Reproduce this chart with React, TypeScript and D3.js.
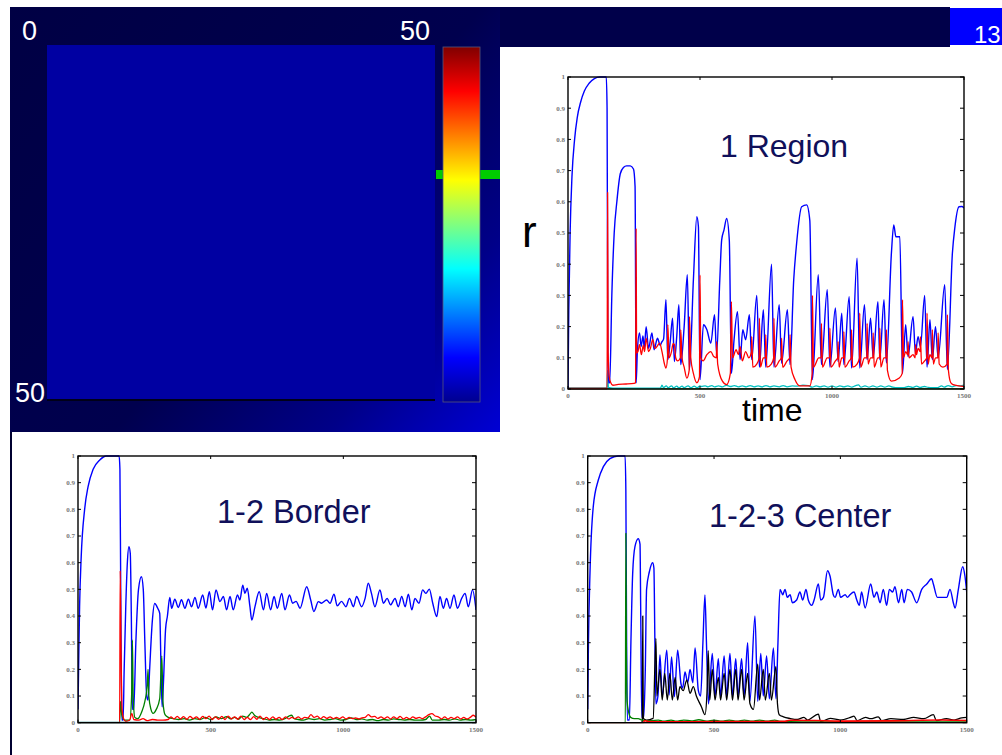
import React from 'react';
import * as d3 from 'd3';

type Pt = [number, number];

const X_TICKS = [0, 500, 1000, 1500];
const X_TICK_LABELS = ['0', '500', '1000', '1500'];
const Y_TICKS = [0, 0.1, 0.2, 0.3, 0.4, 0.5, 0.6, 0.7, 0.8, 0.9, 1];
const Y_TICK_LABELS = ['0', '0.1', '0.2', '0.3', '0.4', '0.5', '0.6', '0.7', '0.8', '0.9', '1'];

const TITLES = ['1 Region', '1-2 Border', '1-2-3 Center'];
const MAP_LABELS = ['0', '50', '50'];
const SLIDE_NUMBER = '13';
const JET_STOPS: [number, string][] = [
  [0, '#00008f'], [0.125, '#0000ff'], [0.375, '#00ffff'], [0.625, '#ffff00'], [0.875, '#ff0000'], [1, '#800000'],
];

// ---------- 1 Region ----------
const R1_BLUE: Pt[] = [[0,0],[3,0.25],[8,0.5],[15,0.68],[25,0.8],[35,0.87],[48,0.92],[62,0.955],[80,0.98],[100,0.995],[120,1],[145,1],[148,0.9],[151,0.1],[154,0.02],[158,0.02],[166,0.3],[175,0.5],[185,0.6],[198,0.69],[210,0.71],[222,0.715],[236,0.715],[248,0.705],[254,0.65],[258,0.02],[263,0.126],[271,0.18],[277,0.136],[284,0.17],[289,0.13],[296,0.2],[305,0.13],[318,0.18],[326,0.126],[339,0.163],[349,0.14],[355,0.15],[362,0.16],[371,0.286],[378,0.094],[387,0.15],[396,0.227],[403,0.088],[412,0.17],[420,0.27],[427,0.078],[440,0.2],[452,0.366],[460,0.062],[475,0.35],[488,0.552],[494,0.52],[500,0.03],[513,0.206],[526,0.19],[541,0.147],[555,0.238],[563,0.115],[575,0.35],[582,0.477],[591,0.51],[601,0.547],[611,0.477],[619,0.05],[629,0.158],[642,0.248],[652,0.094],[662,0.19],[673,0.158],[687,0.238],[696,0.094],[715,0.3],[725,0.07],[740,0.254],[749,0.07],[771,0.4],[780,0.07],[800,0.27],[809,0.083],[831,0.254],[841,0.078],[855,0.35],[866,0.467],[885,0.584],[904,0.59],[916,0.54],[926,0.03],[948,0.366],[960,0.078],[982,0.318],[992,0.07],[1013,0.26],[1023,0.088],[1037,0.243],[1045,0.078],[1065,0.296],[1074,0.067],[1095,0.419],[1105,0.067],[1123,0.27],[1133,0.094],[1146,0.227],[1156,0.1],[1174,0.28],[1181,0.094],[1197,0.286],[1206,0.083],[1225,0.435],[1234,0.526],[1242,0.488],[1257,0.488],[1267,0.05],[1279,0.206],[1288,0.104],[1307,0.232],[1316,0.115],[1326,0.168],[1335,0.136],[1351,0.3],[1360,0.07],[1371,0.222],[1380,0.094],[1392,0.2],[1402,0.1],[1427,0.334],[1437,0.062],[1456,0.435],[1465,0.515],[1481,0.584],[1492,0.585],[1500,0.58]];

const R1_RED: Pt[] = [[0,0],[148,0],[150,0.63],[152,0.12],[156,0.04],[162,0.02],[170,0.012],[190,0.015],[220,0.016],[250,0.018],[256,0.02],[258,0.515],[260,0.115],[265,0.12],[271,0.142],[278,0.11],[285,0.14],[290,0.12],[296,0.163],[305,0.12],[312,0.13],[321,0.158],[330,0.13],[340,0.14],[347,0.147],[356,0.12],[364,0.085],[371,0.067],[377,0.1],[378,0.206],[383,0.1],[392,0.12],[398,0.145],[403,0.142],[408,0.1],[415,0.09],[426,0.1],[427,0.19],[432,0.1],[440,0.07],[450,0.035],[459,0.06],[460,0.232],[465,0.1],[475,0.05],[488,0.02],[498,0.04],[500,0.366],[503,0.1],[512,0.09],[526,0.11],[541,0.12],[552,0.104],[562,0.1],[563,0.152],[567,0.08],[585,0.025],[601,0.014],[615,0.05],[619,0.28],[623,0.1],[637,0.126],[645,0.11],[652,0.136],[660,0.09],[673,0.12],[685,0.1],[695,0.12],[696,0.168],[700,0.07],[715,0.08],[724,0.1],[725,0.227],[729,0.07],[740,0.1],[748,0.1],[749,0.174],[753,0.07],[770,0.08],[779,0.1],[780,0.227],[784,0.07],[800,0.09],[808,0.1],[809,0.163],[813,0.07],[830,0.09],[840,0.1],[841,0.174],[845,0.07],[860,0.03],[879,0.01],[916,0.01],[925,0.05],[926,0.3],[930,0.07],[950,0.1],[959,0.1],[960,0.21],[964,0.07],[982,0.1],[991,0.1],[992,0.195],[996,0.07],[1013,0.09],[1022,0.1],[1023,0.152],[1027,0.07],[1037,0.1],[1044,0.1],[1045,0.184],[1049,0.07],[1065,0.09],[1073,0.1],[1074,0.19],[1078,0.07],[1095,0.08],[1104,0.1],[1105,0.243],[1109,0.07],[1123,0.1],[1132,0.1],[1133,0.21],[1137,0.08],[1146,0.1],[1155,0.1],[1156,0.18],[1160,0.07],[1174,0.1],[1180,0.1],[1181,0.195],[1185,0.07],[1197,0.1],[1205,0.1],[1206,0.19],[1210,0.06],[1225,0.025],[1255,0.035],[1266,0.05],[1267,0.286],[1271,0.1],[1279,0.12],[1287,0.11],[1288,0.152],[1292,0.1],[1307,0.11],[1315,0.1],[1316,0.142],[1320,0.11],[1326,0.13],[1334,0.12],[1335,0.168],[1339,0.08],[1351,0.09],[1359,0.1],[1360,0.243],[1364,0.08],[1371,0.11],[1379,0.1],[1380,0.19],[1384,0.08],[1392,0.1],[1401,0.1],[1402,0.18],[1406,0.08],[1420,0.07],[1436,0.08],[1437,0.238],[1441,0.06],[1450,0.02],[1459,0.014],[1480,0.01],[1500,0.008]];

const R1_CYAN: Pt[] = [[0,0],[148,0],[150,0.06],[153,0.005],[170,0.003],[350,0.003],[356,0.012],[362,0.004],[372,0.01],[380,0.004],[392,0.01],[400,0.004],[412,0.009],[420,0.004],[432,0.009],[440,0.004],[455,0.01],[465,0.004],[478,0.009],[490,0.004],[500,0.01],[505,0.008],[520,0.01],[530,0.007],[545,0.011],[555,0.007],[570,0.01],[585,0.007],[600,0.012],[615,0.008],[630,0.011],[645,0.007],[660,0.01],[675,0.007],[690,0.011],[705,0.007],[720,0.01],[735,0.007],[750,0.011],[765,0.007],[780,0.01],[800,0.007],[815,0.011],[830,0.007],[850,0.01],[870,0.009],[890,0.012],[910,0.011],[925,0.006],[940,0.01],[955,0.007],[970,0.01],[985,0.006],[1000,0.01],[1015,0.006],[1030,0.01],[1045,0.007],[1060,0.01],[1075,0.006],[1090,0.011],[1100,0.013],[1110,0.006],[1125,0.01],[1140,0.006],[1155,0.01],[1170,0.006],[1185,0.01],[1200,0.006],[1215,0.01],[1230,0.006],[1250,0.004],[1270,0.004],[1290,0.008],[1305,0.005],[1320,0.009],[1335,0.005],[1350,0.008],[1365,0.005],[1380,0.004],[1400,0.004],[1415,0.01],[1425,0.006],[1440,0.011],[1455,0.007],[1470,0.011],[1485,0.01],[1500,0.012]];
const R1_GRAY: Pt[] = [[0,0.004],[150,0.004]];
const ZERO_LINE: Pt[] = [[0,0],[1500,0]];

// ---------- 1-2 Border ----------
const B_BLUE: Pt[] = [[0,0.05],[3,0.25],[6,0.435],[12,0.62],[25,0.8],[38,0.885],[57,0.95],[82,0.985],[107,1],[155,1],[158,0.95],[161,0.5],[165,0.01],[170,0.01],[174,0.2],[180,0.435],[186,0.6],[192,0.66],[197,0.635],[201,0.4],[205,0.05],[210,0.05],[218,0.3],[228,0.5],[239,0.547],[246,0.5],[252,0.3],[259,0.1],[264,0.085],[270,0.2],[280,0.38],[289,0.447],[300,0.43],[308,0.41],[313,0.2],[317,0.06],[322,0.15],[330,0.35],[337,0.4],[346,0.47],[353,0.429],[365,0.463],[378,0.432],[390,0.461],[403,0.429],[416,0.463],[428,0.435],[441,0.47],[453,0.429],[470,0.479],[482,0.43],[495,0.491],[507,0.423],[520,0.498],[535,0.454],[548,0.473],[560,0.423],[573,0.473],[585,0.423],[601,0.479],[610,0.46],[621,0.516],[629,0.485],[638,0.504],[648,0.435],[655,0.385],[667,0.435],[683,0.491],[699,0.423],[711,0.485],[726,0.423],[739,0.473],[751,0.429],[768,0.485],[780,0.423],[797,0.479],[809,0.448],[822,0.455],[837,0.429],[862,0.51],[877,0.46],[889,0.417],[906,0.454],[918,0.448],[937,0.46],[950,0.448],[965,0.482],[977,0.438],[993,0.455],[1010,0.435],[1023,0.466],[1038,0.435],[1050,0.473],[1069,0.435],[1082,0.466],[1094,0.523],[1106,0.485],[1119,0.435],[1138,0.498],[1151,0.448],[1165,0.466],[1178,0.442],[1195,0.466],[1207,0.435],[1220,0.473],[1233,0.435],[1245,0.482],[1258,0.423],[1270,0.466],[1285,0.448],[1299,0.498],[1311,0.485],[1324,0.501],[1337,0.448],[1352,0.398],[1364,0.473],[1377,0.429],[1389,0.466],[1402,0.429],[1417,0.479],[1430,0.429],[1446,0.466],[1459,0.485],[1471,0.435],[1487,0.498],[1500,0.423]];

const B_RED: Pt[] = [[0,0],[157,0],[159,0.57],[162,0.3],[166,0.05],[172,0.015],[180,0.005],[195,0.01],[203,0.035],[210,0.012],[230,0.01],[245,0.015],[260,0.008],[280,0.012],[300,0.01],[320,0.01],[340,0.012],[350,0.022],[362,0.014],[374,0.024],[386,0.014],[398,0.023],[410,0.013],[422,0.024],[434,0.015],[446,0.022],[458,0.013],[470,0.024],[482,0.015],[494,0.025],[506,0.012],[518,0.022],[530,0.013],[542,0.024],[554,0.012],[566,0.025],[578,0.014],[590,0.022],[602,0.013],[614,0.025],[626,0.012],[638,0.02],[650,0.012],[662,0.023],[674,0.013],[686,0.025],[698,0.012],[710,0.02],[722,0.012],[734,0.022],[746,0.013],[758,0.02],[770,0.012],[782,0.022],[794,0.014],[806,0.02],[818,0.015],[830,0.022],[842,0.014],[854,0.02],[866,0.018],[878,0.03],[890,0.02],[902,0.025],[914,0.015],[926,0.023],[938,0.016],[950,0.022],[962,0.015],[974,0.02],[986,0.015],[998,0.022],[1010,0.014],[1022,0.02],[1034,0.015],[1046,0.018],[1058,0.014],[1070,0.018],[1082,0.02],[1094,0.03],[1106,0.022],[1118,0.024],[1130,0.016],[1142,0.022],[1154,0.015],[1166,0.022],[1178,0.014],[1190,0.022],[1202,0.015],[1214,0.024],[1226,0.014],[1238,0.02],[1250,0.014],[1262,0.022],[1274,0.016],[1286,0.02],[1298,0.015],[1310,0.022],[1322,0.03],[1334,0.034],[1346,0.025],[1358,0.022],[1370,0.014],[1382,0.022],[1394,0.014],[1406,0.02],[1418,0.015],[1430,0.022],[1442,0.014],[1454,0.02],[1466,0.014],[1478,0.02],[1490,0.028],[1500,0.02]];

const B_GREEN: Pt[] = [[0,0],[157,0],[160,0.08],[165,0.03],[175,0.01],[195,0.01],[202,0.1],[205,0.31],[208,0.1],[214,0.02],[225,0.015],[240,0.04],[252,0.08],[261,0.14],[264,0.2],[267,0.1],[275,0.05],[283,0.035],[295,0.05],[308,0.09],[316,0.25],[320,0.08],[328,0.03],[340,0.02],[360,0.015],[380,0.012],[400,0.015],[420,0.01],[440,0.015],[460,0.012],[480,0.02],[500,0.012],[520,0.022],[540,0.015],[560,0.023],[575,0.014],[590,0.02],[605,0.013],[620,0.025],[635,0.02],[648,0.032],[655,0.04],[665,0.028],[680,0.02],[700,0.015],[720,0.01],[740,0.012],[760,0.01],[780,0.015],[795,0.025],[805,0.028],[815,0.015],[830,0.012],[850,0.01],[870,0.015],[890,0.012],[910,0.015],[930,0.01],[950,0.012],[970,0.015],[990,0.01],[1010,0.012],[1030,0.018],[1050,0.012],[1070,0.014],[1090,0.01],[1110,0.012],[1130,0.008],[1150,0.012],[1170,0.01],[1190,0.014],[1210,0.012],[1230,0.01],[1250,0.012],[1270,0.01],[1290,0.01],[1310,0.012],[1325,0.025],[1335,0.01],[1360,0.01],[1380,0.012],[1400,0.01],[1420,0.014],[1440,0.01],[1460,0.012],[1480,0.01],[1500,0.012]];

// ---------- 1-2-3 Center ----------
const C_BLUE: Pt[] = [[0,0.05],[3,0.3],[9,0.56],[22,0.81],[42,0.91],[62,0.96],[88,0.99],[120,1],[148,1],[151,0.87],[154,0.3],[157,0.01],[165,0.01],[171,0.3],[178,0.56],[187,0.66],[200,0.69],[207,0.67],[210,0.4],[214,0.02],[222,0.02],[228,0.2],[233,0.5],[244,0.566],[257,0.6],[262,0.58],[266,0.3],[270,0.07],[278,0.1],[286,0.254],[295,0.098],[313,0.272],[322,0.104],[332,0.247],[343,0.098],[356,0.272],[369,0.147],[376,0.13],[385,0.19],[396,0.15],[405,0.2],[416,0.15],[425,0.28],[438,0.12],[447,0.1],[456,0.3],[464,0.479],[470,0.3],[478,0.07],[493,0.26],[504,0.1],[517,0.24],[526,0.1],[540,0.25],[550,0.1],[563,0.26],[573,0.1],[586,0.24],[595,0.1],[609,0.24],[619,0.1],[633,0.3],[642,0.08],[662,0.4],[673,0.08],[685,0.26],[695,0.1],[708,0.25],[719,0.09],[735,0.28],[745,0.09],[753,0.3],[761,0.5],[772,0.48],[781,0.5],[790,0.47],[801,0.48],[810,0.45],[827,0.46],[840,0.49],[851,0.46],[864,0.5],[873,0.46],[887,0.44],[896,0.46],[913,0.52],[922,0.46],[933,0.47],[949,0.57],[959,0.55],[972,0.48],[979,0.47],[992,0.5],[1001,0.47],[1019,0.48],[1028,0.47],[1038,0.48],[1054,0.49],[1065,0.46],[1075,0.44],[1084,0.49],[1098,0.43],[1120,0.52],[1133,0.47],[1144,0.49],[1157,0.45],[1170,0.5],[1183,0.44],[1194,0.5],[1207,0.49],[1216,0.51],[1230,0.45],[1243,0.5],[1252,0.45],[1265,0.5],[1282,0.49],[1302,0.45],[1322,0.5],[1342,0.52],[1361,0.54],[1368,0.52],[1384,0.47],[1401,0.47],[1421,0.47],[1434,0.5],[1447,0.45],[1454,0.43],[1467,0.5],[1484,0.585],[1493,0.55],[1500,0.49]];

const C_BLACK: Pt[] = [[0,0],[210,0],[216,0.004],[218,0.4],[220,0.016],[233,0.01],[259,0.016],[270,0.316],[274,0.1],[286,0.2],[295,0.085],[305,0.185],[315,0.085],[325,0.185],[335,0.085],[346,0.17],[356,0.085],[365,0.135],[378,0.12],[392,0.16],[405,0.11],[418,0.135],[430,0.1],[450,0.06],[464,0.03],[472,0.11],[477,0.27],[483,0.085],[493,0.2],[504,0.085],[517,0.17],[526,0.085],[540,0.185],[550,0.085],[563,0.2],[573,0.085],[586,0.2],[595,0.085],[609,0.2],[619,0.085],[633,0.185],[642,0.072],[656,0.05],[673,0.22],[680,0.085],[695,0.2],[703,0.085],[719,0.185],[727,0.085],[745,0.21],[751,0.072],[758,0.03],[775,0.022],[800,0.016],[830,0.012],[856,0.02],[870,0.01],[913,0.032],[922,0.004],[960,0.016],[1000,0.01],[1040,0.02],[1054,0.025],[1066,0.008],[1100,0.02],[1120,0.015],[1150,0.022],[1163,0.008],[1200,0.015],[1250,0.012],[1290,0.02],[1330,0.015],[1368,0.03],[1380,0.008],[1420,0.015],[1450,0.01],[1480,0.018],[1500,0.02]];

const C_GREEN: Pt[] = [[0,0],[149,0],[151,0.71],[153,0.3],[156,0.08],[162,0.04],[170,0.02],[185,0.015],[200,0.015],[215,0.01],[250,0.008],[280,0.01],[300,0.006],[330,0.01],[350,0.006],[380,0.01],[410,0.007],[440,0.011],[470,0.006],[500,0.01],[530,0.006],[560,0.01],[590,0.006],[620,0.01],[650,0.006],[680,0.01],[710,0.006],[740,0.01],[760,0.005],[800,0.004],[900,0.003],[1000,0.003],[1200,0.003],[1500,0.003]];

const C_RED: Pt[] = [[0,0],[220,0],[225,0.008],[240,0.004],[300,0.003],[500,0.004],[780,0.005],[800,0.009],[900,0.008],[1000,0.006],[1200,0.007],[1400,0.01],[1500,0.008]];

type Series = { data: Pt[]; color: string; width: number };

function Chart(props: { id: string; left: number; right: number; top: number; bottom: number; series: Series[] }) {
  const { id, left, right, top, bottom, series } = props;
  const x = d3.scaleLinear().domain([0, 1500]).range([left, right]);
  const y = d3.scaleLinear().domain([0, 1]).range([bottom, top]);
  const line = d3.line<Pt>().x(d => x(d[0])).y(d => y(d[1])).curve(d3.curveMonotoneX);
  const tickFont = '"Liberation Serif", "Times New Roman", serif';
  return (
    <g>
      <defs>
        <clipPath id={id}>
          <rect x={left} y={top - 1} width={right - left} height={bottom - top + 1.5} />
        </clipPath>
      </defs>
      <rect x={left} y={top} width={right - left} height={bottom - top} fill="#fff" />
      <g clipPath={`url(#${id})`}>
        {series.map((s, i) => (
          <path key={i} d={line(s.data) || ''} fill="none" stroke={s.color} strokeWidth={s.width} strokeLinejoin="round" />
        ))}
      </g>
      <rect x={left} y={top} width={right - left} height={bottom - top} fill="none" stroke="#000" strokeWidth={1.4} />
      {Y_TICKS.map((t, i) => (
        <g key={'y' + i}>
          <line x1={left} x2={left + 3} y1={y(t)} y2={y(t)} stroke="#000" strokeWidth={1} />
          <line x1={right - 4} x2={right} y1={y(t)} y2={y(t)} stroke="#000" strokeWidth={1} />
          <text x={left - 3} y={y(t)} dy="0.35em" textAnchor="end" fontSize={7} fontFamily={tickFont} fill="#777777" fontWeight="bold">{Y_TICK_LABELS[i]}</text>
        </g>
      ))}
      {X_TICKS.map((t, i) => (
        <g key={'x' + i}>
          <line x1={x(t)} x2={x(t)} y1={top} y2={top + 3} stroke="#000" strokeWidth={1} />
          <line x1={x(t)} x2={x(t)} y1={bottom} y2={bottom - 3} stroke="#000" strokeWidth={1} />
          <text x={x(t)} y={bottom + 9} textAnchor="middle" fontSize={7} fontFamily={tickFont} fill="#777777" fontWeight="bold">{X_TICK_LABELS[i]}</text>
        </g>
      ))}
    </g>
  );
}

export default function App() {
  const sans = '"Liberation Sans", Arial, Helvetica, sans-serif';
  const titleColor = '#10105a';
  return (
    <svg width={1002} height={755} style={{ position: 'absolute', left: 0, top: 0, background: '#fff' }}>
      <defs>
        <linearGradient id="panelGrad" gradientUnits="userSpaceOnUse" x1={10} y1={6} x2={500} y2={432}>
          <stop offset="0" stopColor="#000044" />
          <stop offset="0.55" stopColor="#00004e" />
          <stop offset="0.8" stopColor="#000088" />
          <stop offset="1" stopColor="#0000d4" />
        </linearGradient>
        <linearGradient id="jet" x1="0" y1="1" x2="0" y2="0">
          {JET_STOPS.map(([o, c], i) => <stop key={i} offset={o} stopColor={c} />)}
        </linearGradient>
      </defs>
      <rect x={0} y={0} width={1002} height={755} fill="#fff" />
      {/* top bar */}
      <rect x={10} y={7} width={940} height={40} fill="#00004a" />
      <rect x={950} y={8} width={52} height={37} fill="#0000ff" />
      <text x={974} y={43} fontSize={24} fontFamily={sans} fill="#fff">{SLIDE_NUMBER}</text>
      {/* heat map panel */}
      <rect x={10} y={7} width={490} height={425} fill="url(#panelGrad)" />
      <line x1={11} x2={11} y1={432} y2={755} stroke="#000030" strokeWidth={2} />
      <rect x={47} y={45} width={388} height={355} fill="#0000a2" />
      <line x1={47} x2={435} y1={400} y2={400} stroke="#000018" strokeWidth={2} />
      <rect x={436} y={170} width={64} height={9} fill="#00cc00" />
      <rect x={443} y={47} width={37} height={355} fill="url(#jet)" stroke="#55557a" strokeWidth={0.8} />
      <text x={22} y={40} fontSize={27} fontFamily={sans} fill="#fff">{MAP_LABELS[0]}</text>
      <text x={400} y={40} fontSize={27} fontFamily={sans} fill="#fff">{MAP_LABELS[1]}</text>
      <text x={15} y={402} fontSize={27} fontFamily={sans} fill="#fff">{MAP_LABELS[2]}</text>

      {/* 1 Region */}
      <Chart id="c1" left={568} right={964} top={77} bottom={389} series={[
        { data: R1_GRAY, color: '#8a8a8a', width: 1.4 },
        { data: ZERO_LINE, color: '#006000', width: 1.6 },
        { data: R1_CYAN, color: '#00c0c0', width: 1.3 },
        { data: R1_BLUE, color: '#0000ff', width: 1.4 },
        { data: R1_RED, color: '#ff0000', width: 1.3 },
      ]} />
      <text x={720} y={157} fontSize={32} fontFamily={sans} fill={titleColor}>{TITLES[0]}</text>
      <text x={522} y={247} fontSize={44} fontFamily={sans} fill="#000">r</text>
      <text x={742} y={421} fontSize={32} fontFamily={sans} fill="#000">time</text>

      {/* 1-2 Border */}
      <Chart id="c2" left={78} right={476} top={456} bottom={722.7} series={[
        { data: B_BLUE, color: '#0000ff', width: 1.4 },
        { data: B_GREEN, color: '#008000', width: 1.3 },
        { data: B_RED, color: '#ff0000', width: 1.3 },
        { data: ZERO_LINE, color: '#007070', width: 2 },
      ]} />
      <text x={217} y={523} fontSize={32.5} fontFamily={sans} fill={titleColor}>{TITLES[1]}</text>

      {/* 1-2-3 Center */}
      <Chart id="c3" left={587.7} right={966.7} top={456} bottom={722.7} series={[
        { data: C_BLUE, color: '#0000ff', width: 1.4 },
        { data: C_BLACK, color: '#000000', width: 1.3 },
        { data: C_GREEN, color: '#008000', width: 1.3 },
        { data: C_RED, color: '#ff0000', width: 1.6 },
      ]} />
      <text x={709} y={527} fontSize={32.5} fontFamily={sans} fill={titleColor}>{TITLES[2]}</text>
    </svg>
  );
}
